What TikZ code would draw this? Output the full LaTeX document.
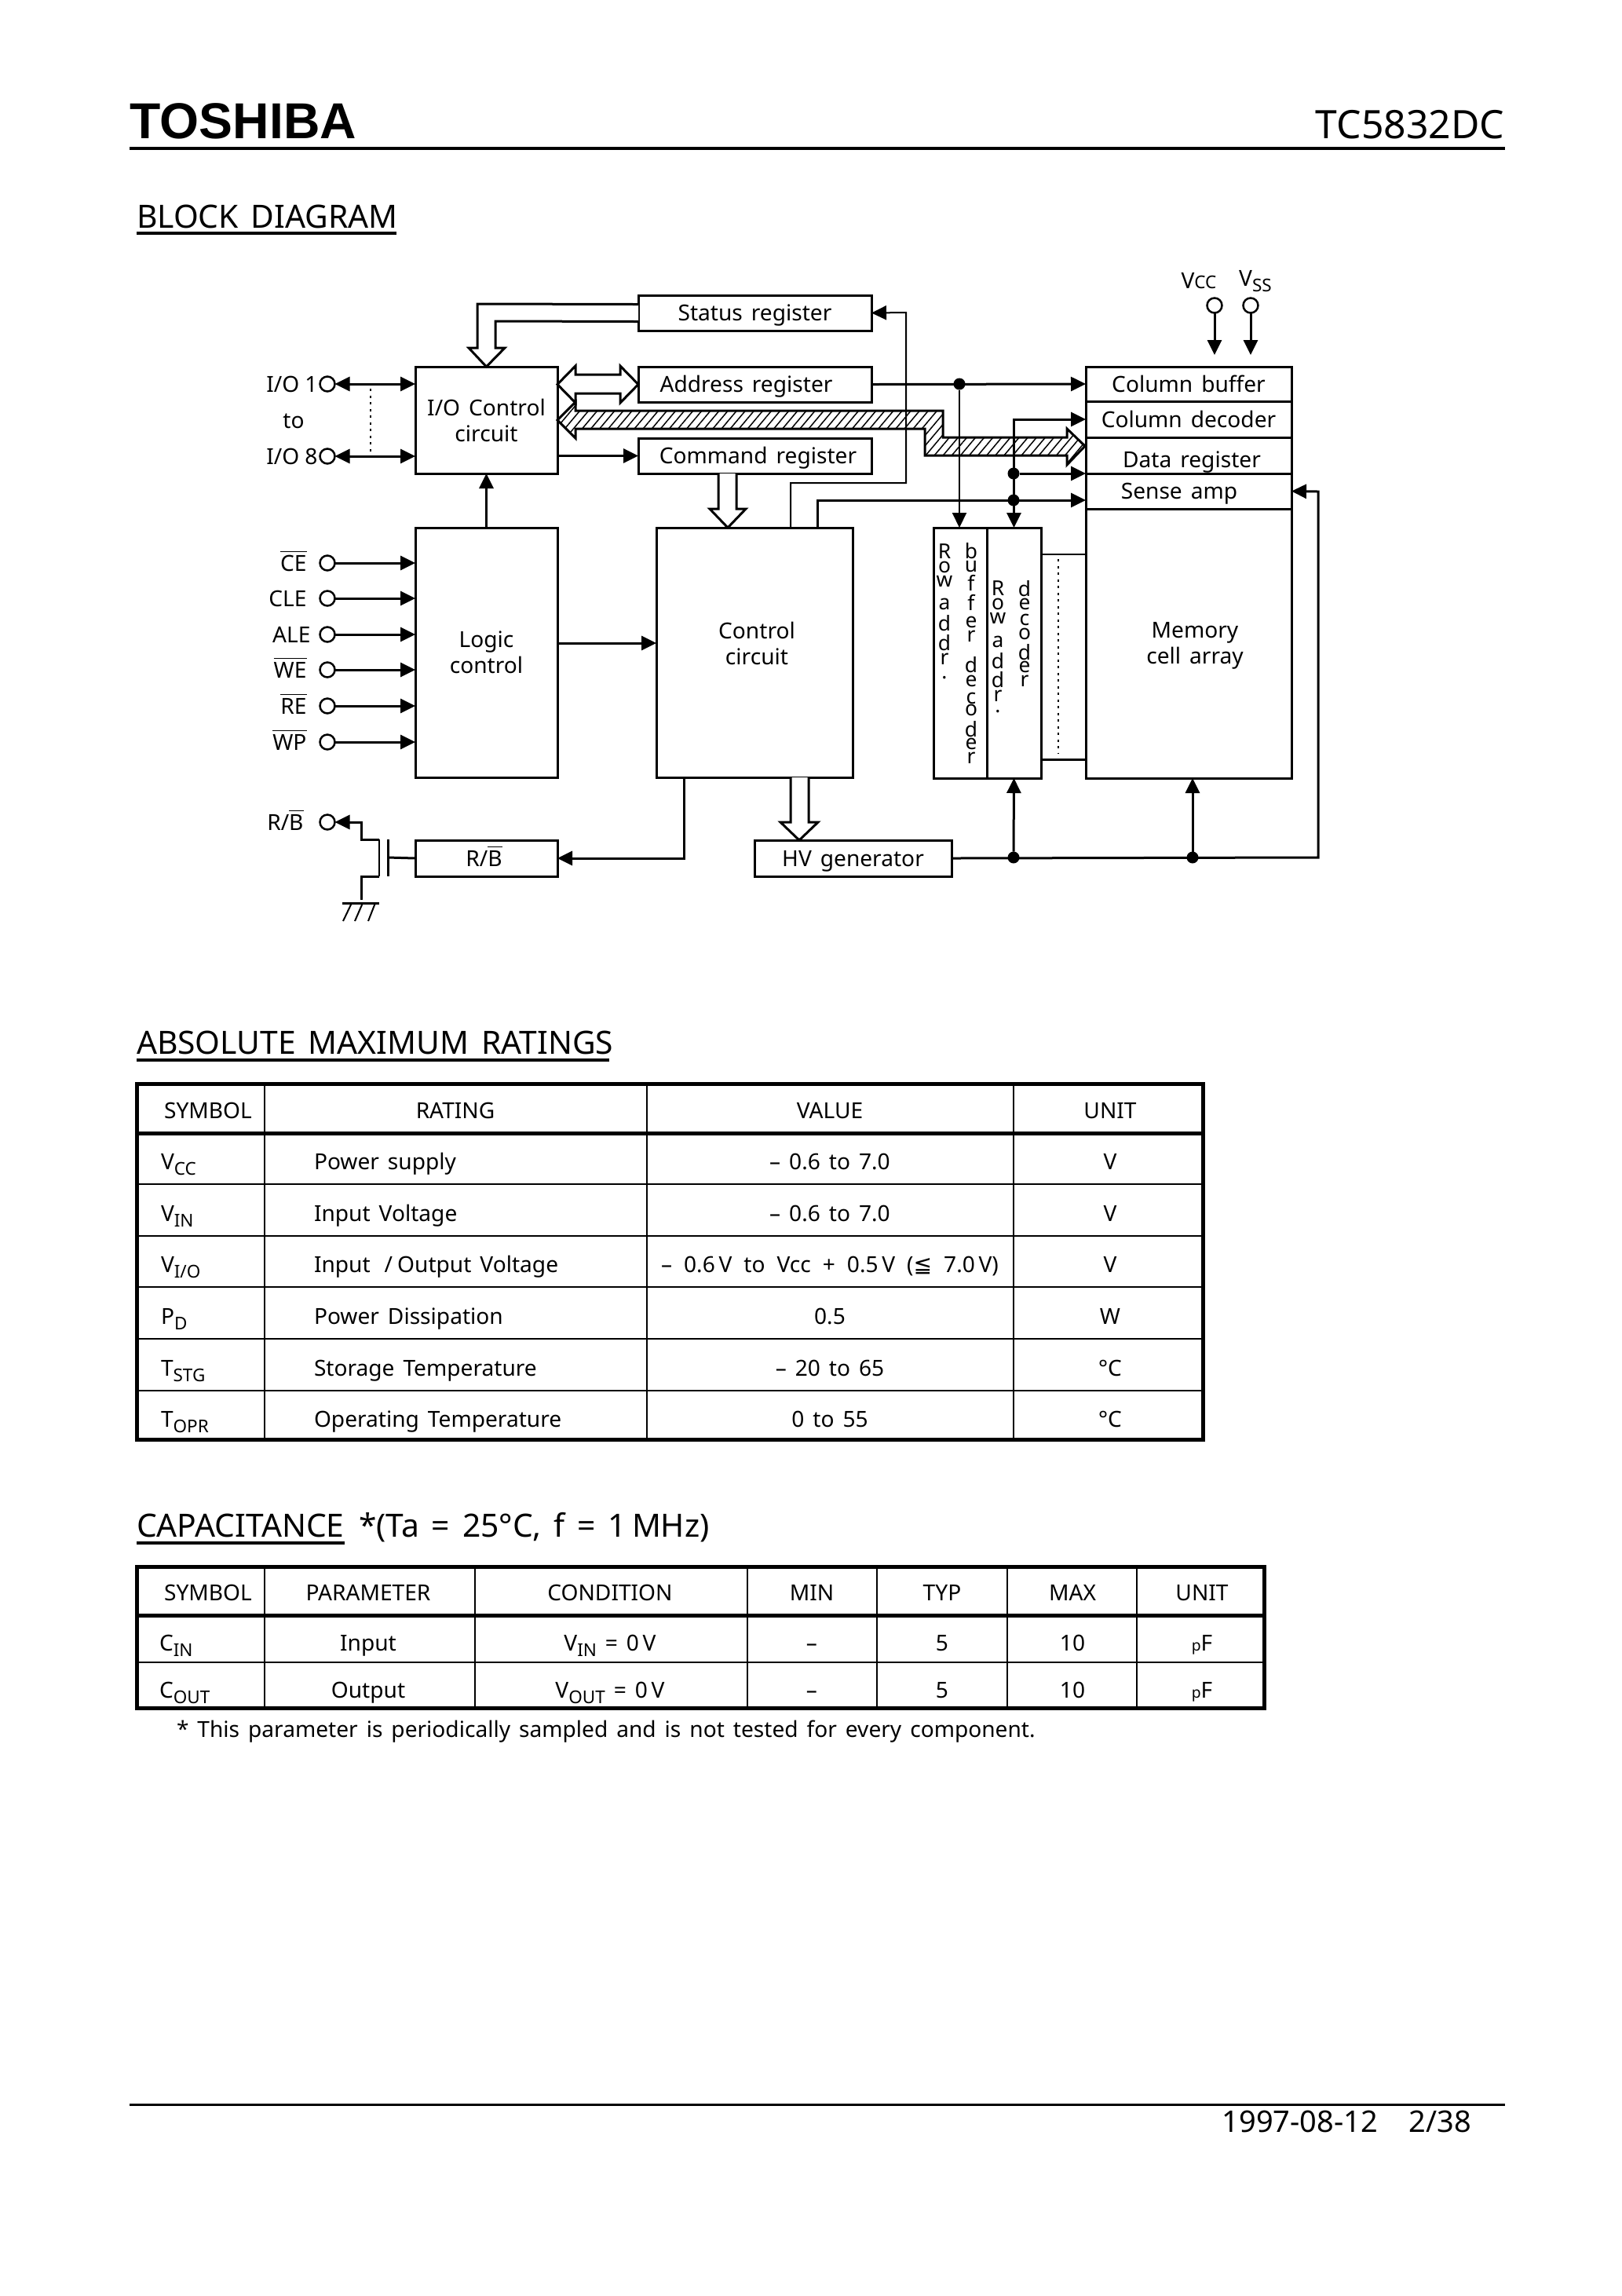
\documentclass[tikz,border=0pt]{standalone}
\usepackage{amsmath}
\usepackage{fontspec}
\setmainfont{Noto Sans}[WordSpace=1.5]
\newfontfamily\flogo{Liberation Sans}
\newfontfamily\fsym{DejaVu Sans}
\usepackage{tikz}
\usetikzlibrary{arrows.meta,positioning,patterns.meta}
\newcommand{\ftxt}{\fontsize{8}{9.4}\selectfont}
\newcommand{\fhdg}{\fontsize{11.6}{13}\selectfont}
\newcommand{\fstk}{\fontsize{7.5}{5.1}\selectfont\lineskiplimit=-10pt}
\newcommand{\ovl}[1]{$\overline{\text{#1}}$}
\newcommand{\sbs}[1]{\raisebox{-.7mm}{\fontsize{6.4}{7}\selectfont #1}}

\begin{document}
\begin{tikzpicture}[
  x=1mm,y=-1mm,
  blk/.style={draw,line width=.3mm,inner sep=0pt,outer sep=0pt,font=\ftxt,text height=2mm,text depth=0pt},
  mblk/.style={draw,line width=.3mm,inner sep=0pt,outer sep=0pt,font=\ftxt,align=center},
  txtb/.style={inner sep=0pt,outer sep=0pt,font=\ftxt,align=center},
  reg/.style={blk,minimum width=29.7mm,minimum height=4.5mm},
  cols/.style={blk,minimum width=26.2mm},
  term/.style={circle,draw,line width=.25mm,inner sep=0pt,outer sep=0pt,minimum size=1.9mm},
  jct/.style={circle,fill=black,inner sep=0pt,outer sep=0pt,minimum size=1.5mm},
  sig/.style={font=\ftxt,inner sep=0pt,outer sep=0pt,text height=2mm,text depth=0pt},
  stk/.style={font=\fstk,inner sep=0pt,outer sep=0pt,align=center,anchor=north},
  hdg/.style={font=\fhdg,inner sep=0pt,outer sep=0pt,anchor=base west},
  ar/.style={-{Triangle[length=1.9mm,width=1.8mm]},line width=.3mm},
  arr/.style={{Triangle[length=1.9mm,width=1.8mm]}-{Triangle[length=1.9mm,width=1.8mm]},line width=.3mm},
  ln/.style={line width=.3mm},
  thn/.style={line width=.2mm},
  hvy/.style={line width=.5mm},
  dts/.style={line width=.25mm,dash pattern=on .3mm off .55mm},
  bus/.style={line width=.3mm,fill=white},
  hbus/.style={line width=.3mm,pattern={Lines[angle=50,distance=.85mm,line width=.15mm]}}
]
\useasboundingbox (0,0) rectangle (206.6,292.4);
% page head
\node[inner sep=0pt,anchor=base west,font=\fontsize{18.3}{20}\selectfont\flogo\bfseries] (logo) at (16.5,17.6) {TOSHIBA};
\node[inner sep=0pt,anchor=base east,font=\fontsize{14.2}{16}\selectfont] (part) at (191.7,17.6) {TC5832DC};
\draw[line width=.4mm] (16.5,18.9) -- (191.7,18.9);
\node[hdg] (hbd) at (17.4,29) {BLOCK DIAGRAM};
\draw[line width=.4mm] (17.4,29.7) -- (50.5,29.7);

% blocks
\node[mblk,minimum width=18.1mm,minimum height=13.6mm] (ioc) at (61.95,53.5) {I/O Control\\circuit};
\node[reg,right=10.3mm of ioc.north east,anchor=north west] (adr) {Address register\hspace*{2.2mm}};
\node[reg,above=4.6mm of adr] (str) {Status register};
\node[reg,below=4.6mm of adr] (cmd) {Command register\hspace*{-.8mm}};
\node[mblk,below=6.9mm of ioc,minimum width=18.1mm,minimum height=31.8mm] (lgc) {Logic\\control};
\node[mblk,right=12.6mm of lgc,minimum width=25mm,minimum height=31.8mm] (ctl) {};
\node[txtb] (lctl) at (96.4,81.9) {Control\\circuit};
\node[blk,below=8mm of lgc,minimum width=18.1mm,minimum height=4.6mm] (rbb) {R/\ovl{B}\hspace*{.6mm}};
\node[blk,right=25.1mm of rbb,minimum width=25.1mm,minimum height=4.6mm] (hv) {HV generator};
\node[cols,minimum height=4.4mm] (colb) at (151.4,48.9) {Column buffer};
\node[cols,below=0pt of colb,minimum height=4.6mm] (cold) {Column decoder};
\node[cols,below=0pt of cold,minimum height=4.6mm] (dat) {\hspace*{.8mm}\raisebox{-.5mm}{Data register}};
\node[cols,below=0pt of dat,minimum height=4.5mm] (sns) {Sense amp\hspace*{2.4mm}};
\node[mblk,below=0pt of sns,minimum width=26.2mm,minimum height=34.3mm] (mem) {};
\node[txtb] (lmem) at (152.2,82.2) {Memory\\cell array};
\node[draw,line width=.3mm,inner sep=0pt,outer sep=0pt,minimum width=6.8mm,minimum height=31.9mm] (rowa) at (122.3,83.15) {};
\node[draw,line width=.3mm,inner sep=0pt,outer sep=0pt,right=0pt of rowa,minimum width=6.9mm,minimum height=31.9mm] (rowd) {};
\node[stk] (rab) at (120.3,69.3) {R\\o\\w\\[1.1mm]a\\[.9mm]d\\[.7mm]d\\r\\.};
\node[stk] (bfd) at (123.7,69.1) {b\\u\\[.6mm]f\\[.7mm]f\\[.4mm]e\\r\\[2.1mm]d\\e\\[.4mm]c\\[-.3mm]o\\[.9mm]d\\[-.2mm]e\\r};
\node[stk] (rad) at (127.1,74) {R\\o\\w\\[1.2mm]a\\[.9mm]d\\[.6mm]d\\r\\[-.4mm].};
\node[stk] (dcd) at (130.5,73.9) {d\\e\\[.2mm]c\\o\\[.8mm]d\\[-.2mm]e\\r};

% hatched bus
\draw[hbus] (ioc.east) -- (73.3,51.2) -- (73.3,52.3) -- (120.1,52.3) -- (120.1,55.7) -- (135.9,55.7) -- (135.9,54.6)
  -- (138.2,56.8) -- (135.9,59.2) -- (135.9,58) -- (117.8,58) -- (117.8,54.6) -- (73.3,54.6) -- (73.3,55.8) -- cycle;
% hollow buses
\draw[bus] ([yshift=1.1mm]str.west) -- (60.8,38.7) -- (60.8,44.3) -- (59.7,44.3) -- (ioc.north) -- (64.3,44.3) -- (63.1,44.3) -- (63.1,40.9) -- ([yshift=-1.1mm]str.west);
\draw[bus] (ioc.east |- adr.west) -- (73.3,46.6) -- (73.3,47.7) -- (79,47.7) -- (79,46.6) -- (adr.west) -- (79,51.3) -- (79,50.1) -- (73.3,50.1) -- (73.3,51.3) -- cycle;
\draw[bus] (91.5,60.3) -- (91.5,64.8) -- (90.4,64.8) -- (92.7,67.2) -- (95,64.8) -- (93.8,64.8) -- (93.8,60.3);
\draw[bus] (100.7,99) -- (100.7,104.7) -- (99.4,104.7) -- (101.8,107) -- (104.2,104.7) -- (103,104.7) -- (103,99);

% supply pins
\node[term] (pvc) at (154.7,38.9) {};
\node[term] (pvs) at (159.3,38.9) {};
\node[sig,above=1.2mm of pvc,xshift=-2mm] (lvc) {V{\fontsize{6.4}{7}\selectfont CC}};
\node[sig,above=1.5mm of pvs,xshift=.6mm] (lvs) {V\sbs{SS}};
\draw[ar] (pvc) -- (154.7,45.2);
\draw[ar] (pvs) -- (159.3,45.2);

% io pins
\node[term] (pio1) at (41.7,48.9) {};
\node[term] (pio8) at (41.7,58.1) {};
\node[sig,left=.3mm of pio1] (lio1) {I/O\hspace{.7mm}1};
\node[sig,left=.3mm of pio8] (lio8) {I/O\hspace{.7mm}8};
\node[sig] (lto) at (37.4,53.5) {to};
\draw[arr] (pio1) -- (ioc.west |- pio1);
\draw[arr] (pio8) -- (ioc.west |- pio8);
\draw[dts] (47.2,49.5) -- (47.2,57.5);

% control pins
\node[term] (pce) at (41.7,71.7) {};
\node[term] (pcl) at (41.7,76.2) {};
\node[term] (pal) at (41.7,80.8) {};
\node[term] (pwe) at (41.7,85.3) {};
\node[term] (pre) at (41.7,89.9) {};
\node[term] (pwp) at (41.7,94.5) {};
\node[term] (prb) at (41.7,104.7) {};
\node[sig,left=1.7mm of pce] (lce) {\ovl{CE}};
\node[sig,left=1.7mm of pcl] (lcl) {CLE};
\node[sig,left=1.2mm of pal] (lal) {ALE};
\node[sig,left=1.7mm of pwe] (lwe) {\ovl{WE}};
\node[sig,left=1.7mm of pre] (lre) {\ovl{RE}};
\node[sig,left=1.7mm of pwp] (lwp) {\ovl{WP}};
\node[sig,left=2.1mm of prb] (lrb) {R/\ovl{B}};
\draw[ar] (pce) -- (lgc.west |- pce);
\draw[ar] (pcl) -- (lgc.west |- pcl);
\draw[ar] (pal) -- (lgc.west |- pal);
\draw[ar] (pwe) -- (lgc.west |- pwe);
\draw[ar] (pre) -- (lgc.west |- pre);
\draw[ar] (pwp) -- (lgc.west |- pwp);

% connectors
\draw[ar] (ioc.east |- cmd.west) -- (cmd.west);
\draw[ar] (lgc.north) -- (ioc.south);
\draw[ar] ([yshift=1.2mm]lgc.east) -- ([yshift=1.2mm]ctl.west);
\draw[ar,thn] ([xshift=4.6mm]ctl.north) -- (100.7,61.5) -- (115.4,61.5) -- (115.4,39.8) -- (str.east);
\coordinate (jsa) at (129.1,63.7);
\draw[ar] ([xshift=8mm]ctl.north) |- ([yshift=-1.15mm]sns.west);
\node[jct] (ja) at (122.2,48.9) {};
\draw[ar] (adr.east) -- (colb.west);
\draw[ar,thn] (ja) -- (ja |- rowa.north);
\node[jct] (jd) at (129.1,60.3) {};
\node[jct] (js) at (jsa) {};
\draw[arr] (rowd.north) |- (cold.west);
\draw[ar] (jd) -- (jd -| dat.west);
\draw[ar] ([xshift=-9mm]ctl.south) |- (rbb.east);
\node[jct] (jh1) at (129.1,109.2) {};
\node[jct] (jh2) at (151.9,109.2) {};
\draw[ar] (jh1) -- (rowd.south);
\draw[ar] (jh2) -- (jh2 |- mem.south);
\draw[ar] (hv.east) -- (167.9,109.2) -- (167.9,62.6) -- (sns.east);
\draw[thn] (132.6,70.6) -- (138.3,70.6);
\draw[ln] (132.6,96.7) -- (138.3,96.7);
\draw[dts] (134.8,71.2) -- (134.8,96);

% output transistor
\coordinate (gt) at (49.4,109.2);
\draw[ln] (rbb.west) -- (gt);
\draw[ln] (49.4,106.9) -- (49.4,111.6);
\draw[thn] (48.3,106.9) -- (48.3,111.6);
\draw[ar] (48.3,106.9) -- (46,106.9) -- (46,104.7) -- (prb.east);
\draw[ln] (48.3,111.6) -- (46,111.6) -- (46,114.6);
\draw[ln] (43.6,115) -- (48.3,115);
\draw[thn] (44.8,115) -- (43.7,117.3);
\draw[thn] (46.2,115) -- (45.2,117.3);
\draw[thn] (47.8,115) -- (46.9,117.3);

% ratings
\node[hdg] (hrt) at (17.4,134.2) {ABSOLUTE MAXIMUM RATINGS};
\draw[line width=.4mm] (17.4,135) -- (77.6,135);
\draw[hvy] (17.4,138) rectangle (153.2,183.3);
\draw[hvy] (17.4,144.3) -- (153.2,144.3);
\draw[thn] (17.4,150.8) -- (153.2,150.8) (17.4,157.4) -- (153.2,157.4) (17.4,163.9) -- (153.2,163.9) (17.4,170.5) -- (153.2,170.5) (17.4,177.1) -- (153.2,177.1);
\draw[thn] (33.7,138) -- (33.7,183.3) (82.4,138) -- (82.4,183.3) (129.1,138) -- (129.1,183.3);
\node[sig] (rh1) at (26.5,141.4) {SYMBOL};
\node[sig] (rh2) at (58,141.4) {RATING};
\node[sig] (rh3) at (105.7,141.4) {VALUE};
\node[sig] (rh4) at (141.4,141.4) {UNIT};
\node[sig,anchor=west] (rs1) at (20.5,147.9) {V\sbs{CC}};
\node[sig,anchor=west] (rr1) at (40,147.9) {Power supply};
\node[sig] (rv1) at (105.7,147.9) {– 0.6 to 7.0};
\node[sig] (ru1) at (141.4,147.9) {V};
\node[sig,anchor=west] (rs2) at (20.5,154.5) {V\sbs{IN}};
\node[sig,anchor=west] (rr2) at (40,154.5) {Input Voltage};
\node[sig] (rv2) at (105.7,154.5) {– 0.6 to 7.0};
\node[sig] (ru2) at (141.4,154.5) {V};
\node[sig,anchor=west] (rs3) at (20.5,161) {V\sbs{I/O}};
\node[sig,anchor=west] (rr3) at (40,161) {Input\hspace{1.8mm}/\hspace{.6mm}Output Voltage};
\node[sig] (rv3) at (105.7,161) {\spaceskip=1.5mm – 0.6\,V to Vcc + 0.5\,V ({\fsym ≦} 7.0\,V)};
\node[sig] (ru3) at (141.4,161) {V};
\node[sig,anchor=west] (rs4) at (20.5,167.6) {P\sbs{D}};
\node[sig,anchor=west] (rr4) at (40,167.6) {Power Dissipation};
\node[sig] (rv4) at (105.7,167.6) {0.5};
\node[sig] (ru4) at (141.4,167.6) {W};
\node[sig,anchor=west] (rs5) at (20.5,174.2) {T\sbs{STG}};
\node[sig,anchor=west] (rr5) at (40,174.2) {Storage Temperature};
\node[sig] (rv5) at (105.7,174.2) {– 20 to 65};
\node[sig] (ru5) at (141.4,174.2) {°C};
\node[sig,anchor=west] (rs6) at (20.5,180.7) {T\sbs{OPR}};
\node[sig,anchor=west] (rr6) at (40,180.7) {Operating Temperature};
\node[sig] (rv6) at (105.7,180.7) {0 to 55};
\node[sig] (ru6) at (141.4,180.7) {°C};

% capacitance
\node[hdg] (hcp) at (17.4,195.7) {CAPACITANCE};
\draw[line width=.4mm] (17.4,196.5) -- (43.9,196.5);
\node[hdg] (hcn) at (45.7,195.7) {*(Ta = 25°C, f = 1\,MHz)};
\draw[hvy] (17.4,199.5) rectangle (161,217.5);
\draw[hvy] (17.4,205.7) -- (161,205.7);
\draw[thn] (17.4,211.7) -- (161,211.7);
\draw[thn] (33.7,199.5) -- (33.7,217.5) (60.5,199.5) -- (60.5,217.5) (95.2,199.5) -- (95.2,217.5) (111.7,199.5) -- (111.7,217.5) (128.3,199.5) -- (128.3,217.5) (144.8,199.5) -- (144.8,217.5);
\node[sig] (ch1) at (26.5,202.8) {SYMBOL};
\node[sig] (ch2) at (46.9,202.8) {PARAMETER};
\node[sig] (ch3) at (77.7,202.8) {CONDITION};
\node[sig] (ch4) at (103.4,202.8) {MIN};
\node[sig] (ch5) at (120,202.8) {TYP};
\node[sig] (ch6) at (136.6,202.8) {MAX};
\node[sig] (ch7) at (153.1,202.8) {UNIT};
\node[sig,anchor=west] (cs1) at (20.3,209.2) {C\sbs{IN}};
\node[sig] (cp1) at (46.9,209.2) {Input};
\node[sig] (cc1) at (77.7,209.2) {V\sbs{IN} = 0\,V};
\node[sig] (cn1) at (103.4,209.2) {–};
\node[sig] (ct1) at (120,209.2) {5};
\node[sig] (cx1) at (136.6,209.2) {10};
\node[sig] (cu1) at (153.1,209.2) {{\fontsize{5.5}{6}\selectfont p}F};
\node[sig,anchor=west] (cs2) at (20.3,215.2) {C\sbs{OUT}};
\node[sig] (cp2) at (46.9,215.2) {Output};
\node[sig] (cc2) at (77.7,215.2) {V\sbs{OUT} = 0\,V};
\node[sig] (cn2) at (103.4,215.2) {–};
\node[sig] (ct2) at (120,215.2) {5};
\node[sig] (cx2) at (136.6,215.2) {10};
\node[sig] (cu2) at (153.1,215.2) {{\fontsize{5.5}{6}\selectfont p}F};
\node[sig,anchor=base west,text height=0pt] (fnt) at (22.5,221.2) {* This parameter is periodically sampled and is not tested for every component.};

% page foot
\draw[line width=.3mm] (16.5,268) -- (191.7,268);
\node[inner sep=0pt,anchor=base west,font=\fontsize{10.8}{12}\selectfont] (fdt) at (155.6,271.5) {1997-08-12};
\node[inner sep=0pt,anchor=base west,font=\fontsize{10.8}{12}\selectfont] (fpg) at (179.4,271.5) {2/38};
\end{tikzpicture}
\end{document}
